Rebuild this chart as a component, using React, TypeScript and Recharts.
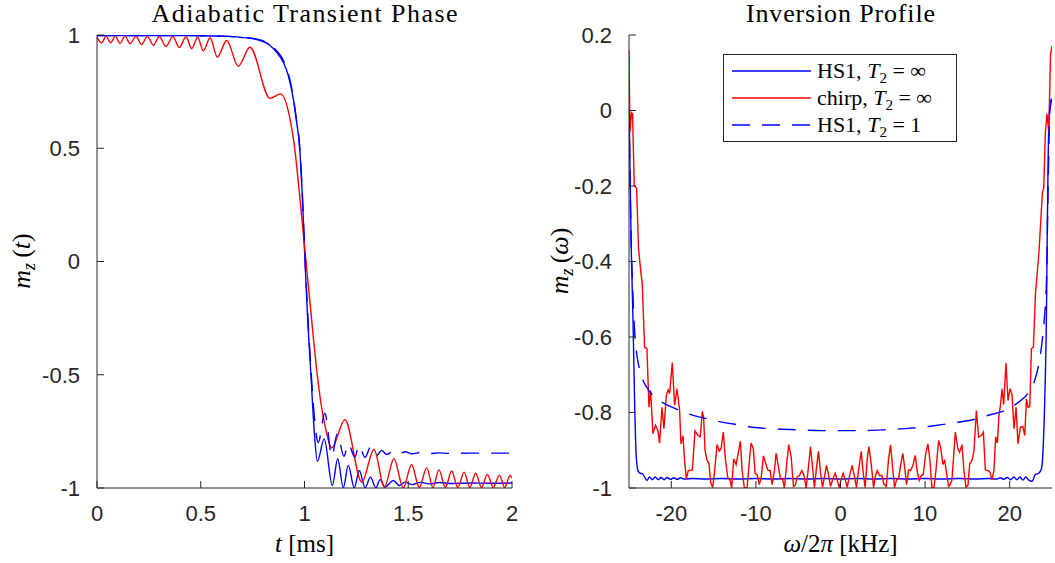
import React from 'react';
import { LineChart, Line, XAxis, YAxis, Legend } from 'recharts';

// ---------- tick values ----------
const transientTicksX = [0, 0.5, 1, 1.5, 2];
const transientTicksY = [-1, -0.5, 0, 0.5, 1];
const profileTicksX = [-20, -10, 0, 10, 20];
const profileTicksY = [-1, -0.8, -0.6, -0.4, -0.2, 0, 0.2];

// ---------- Adiabatic transient phase (t in ms) ----------
const hs1TransientT = [
  0, 0.3, 0.5, 0.6, 0.69, 0.77, 0.834, 0.866, 0.898, 0.922,
  0.946, 0.962, 0.975, 0.99, 1.0, 1.015, 1.031, 1.047, 1.062, 1.095,
  1.134, 1.16, 1.187, 1.211, 1.24, 1.264, 1.292, 1.318, 1.344, 1.364,
  1.388, 1.428, 1.457, 1.484, 1.52, 1.56, 1.6, 1.65, 1.7, 1.8,
  1.9, 2.0,
];
const hs1TransientMz = [
  0.998, 0.998, 0.997, 0.995, 0.99, 0.98, 0.954, 0.924, 0.88, 0.821,
  0.718, 0.615, 0.52, 0.28, 0.05, -0.25, -0.5, -0.75, -0.882, -0.783,
  -0.989, -0.871, -0.999, -0.9, -0.999, -0.923, -0.999, -0.952, -0.999, -0.963,
  -0.996, -0.967, -0.989, -0.974, -0.985, -0.975, -0.982, -0.976, -0.98, -0.978,
  -0.979, -0.978,
];

const chirpTransientT = [
  0, 0.0225, 0.0434, 0.0659, 0.088, 0.1108, 0.135, 0.159, 0.188, 0.215,
  0.243, 0.2715, 0.3, 0.3325, 0.365, 0.3968, 0.429, 0.4562, 0.485, 0.5124,
  0.545, 0.58, 0.625, 0.681, 0.737, 0.834, 0.885, 0.93, 0.949, 0.98,
  1.0, 1.02, 1.04, 1.059, 1.08, 1.1, 1.131, 1.195, 1.276, 1.335,
  1.385, 1.431, 1.476, 1.516, 1.553, 1.589, 1.619, 1.648, 1.679, 1.709,
  1.739, 1.769, 1.797, 1.825, 1.853, 1.881, 1.91, 1.939, 1.965, 1.99,
  2.0,
];
const chirpTransientMz = [
  0.99, 0.965, 0.995, 0.965, 0.995, 0.963, 0.995, 0.962, 0.994, 0.958,
  0.994, 0.955, 0.993, 0.95, 0.993, 0.945, 0.992, 0.94, 0.99, 0.93,
  0.988, 0.902, 0.976, 0.862, 0.946, 0.72, 0.74, 0.63, 0.527, 0.26,
  0.07, -0.12, -0.31, -0.48, -0.63, -0.73, -0.823, -0.699, -0.974, -0.83,
  -0.996, -0.871, -0.999, -0.896, -0.998, -0.911, -0.998, -0.92, -0.998, -0.925,
  -0.998, -0.93, -0.998, -0.935, -0.998, -0.94, -0.998, -0.943, -0.998, -0.945,
  -0.955,
];

const hs1T2TransientT = [
  0, 0.3, 0.5, 0.6, 0.69, 0.77, 0.834, 0.866, 0.898, 0.922,
  0.946, 0.962, 0.975, 0.99, 1.0, 1.015, 1.03, 1.047, 1.066, 1.098,
  1.132, 1.158, 1.19, 1.211, 1.243, 1.262, 1.292, 1.318, 1.347, 1.372,
  1.396, 1.428, 1.457, 1.484, 1.52, 1.56, 1.6, 1.65, 1.7, 1.8,
  1.9, 2.0,
];
const hs1T2TransientMz = [
  0.998, 0.998, 0.997, 0.995, 0.99, 0.982, 0.958, 0.93, 0.888, 0.83,
  0.726, 0.622, 0.527, 0.29, 0.07, -0.22, -0.46, -0.68, -0.8, -0.67,
  -0.86, -0.76, -0.86, -0.805, -0.864, -0.812, -0.865, -0.82, -0.857, -0.834,
  -0.852, -0.838, -0.85, -0.84, -0.849, -0.843, -0.848, -0.845, -0.847, -0.846,
  -0.846, -0.846,
];

// ---------- Inversion profile (offset in kHz) ----------
const hs1ProfileKHz = [
  -25, -24.9, -24.73, -24.53, -24.34, -24.14, -23.94, -23.67, -23.43, -23.16,
  -22.88, -22.57, -22.25, -21.89, -21.55, -21.2, -20.85, -20.5, -20.1, -19.7,
  -19.3, -18.9, -18.5, -17.5, -16, -14, -12, -10, -8, -6,
  -4, -2, 0, 2, 4, 6, 8, 10, 12, 14,
  16, 17.5, 18.5, 18.9, 19.3, 19.7, 20.1, 20.5, 20.85, 21.2,
  21.55, 21.9, 22.25, 22.64, 23.04, 23.43, 23.75, 23.94, 24.14, 24.34,
  24.45, 24.55, 24.65, 24.9, 25,
];
const hs1ProfileMz = [
  0.03, -0.13, -0.37, -0.55, -0.77, -0.918, -0.954, -0.961, -0.962, -0.971,
  -0.98, -0.971, -0.978, -0.971, -0.978, -0.972, -0.978, -0.972, -0.977, -0.973,
  -0.977, -0.973, -0.976, -0.975, -0.976, -0.975, -0.976, -0.975, -0.976, -0.975,
  -0.976, -0.975, -0.976, -0.975, -0.976, -0.975, -0.976, -0.975, -0.976, -0.975,
  -0.976, -0.975, -0.976, -0.973, -0.977, -0.972, -0.978, -0.971, -0.978, -0.971,
  -0.979, -0.971, -0.979, -0.982, -0.964, -0.961, -0.949, -0.901, -0.768, -0.547,
  -0.3, -0.12, -0.02, 0.03, 0.03,
];

const chirpProfileKHz = [
  -25, -24.89, -24.7, -24.58, -24.38, -24.1, -23.87, -23.59, -23.43, -23.16,
  -22.88, -22.64, -22.45, -22.17, -21.86, -21.58, -21.39, -21.1, -20.87, -20.59,
  -20.36, -20.2, -19.88, -19.61, -19.33, -19.02, -18.86, -18.62, -18.43, -18.22,
  -17.99, -17.51, -17.2, -16.84, -16.57, -16.33, -16.18, -16.01, -15.78, -15.54,
  -15.35, -15.11, -14.91, -14.59, -14.32, -14.12, -13.85, -13.61, -13.34, -13.05,
  -12.86, -12.63, -12.34, -12.07, -11.83, -11.63, -11.36, -11.04, -10.77, -10.57,
  -10.3, -10.09, -9.86, -9.59, -9.38, -9.11, -8.88, -8.6, -8.32, -8.08,
  -7.81, -7.61, -7.34, -7.1, -6.83, -6.63, -6.36, -6.12, -5.83, -5.56,
  -5.33, -5.12, -4.85, -4.58, -4.34, -4.06, -3.79, -3.55, -3.31, -3.08,
  -2.84, -2.6, -2.37, -2.13, -1.89, -1.66, -1.42, -1.18, -0.91, -0.63,
  -0.39, -0.15, 0.08, 0.32, 0.56, 0.79, 1.07, 1.38, 1.66, 1.89,
  2.13, 2.45, 2.69, 2.92, 3.16, 3.35, 3.63, 3.91, 4.14, 4.34,
  4.62, 4.89, 5.12, 5.41, 5.68, 5.92, 6.15, 6.39, 6.63, 6.86,
  7.1, 7.37, 7.57, 7.81, 8.05, 8.28, 8.56, 8.84, 9.08, 9.31,
  9.55, 9.79, 10.06, 10.33, 10.57, 10.8, 11.04, 11.28, 11.6, 11.83,
  12.11, 12.31, 12.54, 12.78, 12.9, 13.17, 13.57, 13.88, 14.08, 14.36,
  14.59, 14.83, 15.07, 15.27, 15.54, 15.78, 16.06, 16.33, 16.65, 16.89,
  17.12, 17.43, 17.67, 17.91, 18.14, 18.34, 18.54, 18.73, 18.93, 19.09,
  19.29, 19.56, 19.8, 20.04, 20.27, 20.51, 20.75, 20.98, 21.27, 21.54,
  21.78, 21.98, 22.17, 22.37, 22.57, 22.8, 23.04, 23.28, 23.47, 23.87,
  24.02, 24.22, 24.41, 24.62, 24.82, 25,
];
const chirpProfileMz = [
  0.159, -0.057, -0.006, -0.009, -0.199, -0.206, -0.366, -0.43, -0.46, -0.627,
  -0.631, -0.786, -0.742, -0.856, -0.834, -0.848, -0.881, -0.786, -0.843, -0.755,
  -0.74, -0.75, -0.668, -0.781, -0.737, -0.793, -0.883, -0.862, -0.927, -0.976,
  -0.954, -0.952, -0.848, -0.861, -0.864, -0.797, -0.812, -0.9, -0.927, -0.936,
  -0.985, -0.999, -0.962, -0.885, -0.902, -0.896, -0.852, -0.923, -0.971, -0.98,
  -1.0, -0.923, -0.938, -0.905, -0.876, -0.954, -1.0, -1.0, -0.927, -0.881,
  -0.896, -0.962, -0.965, -0.991, -0.973, -0.915, -0.932, -0.952, -0.954, -0.991,
  -0.954, -0.908, -0.943, -0.976, -0.978, -1.0, -0.936, -0.885, -0.918, -0.996,
  -0.992, -0.97, -0.967, -0.954, -0.964, -1.0, -0.945, -0.89, -0.945, -0.999,
  -0.946, -0.903, -0.958, -0.998, -0.97, -0.94, -0.964, -0.996, -0.976, -0.961,
  -0.978, -0.999, -0.976, -0.961, -0.978, -0.998, -0.967, -0.94, -0.971, -0.999,
  -0.954, -0.903, -0.962, -0.999, -0.923, -0.89, -0.936, -0.999, -0.967, -0.954,
  -0.967, -0.967, -0.989, -0.996, -0.923, -0.886, -0.945, -0.999, -0.978, -0.976,
  -0.94, -0.908, -0.943, -0.991, -0.952, -0.954, -0.94, -0.914, -0.958, -0.98,
  -0.967, -0.964, -0.911, -0.883, -0.927, -0.998, -1.0, -0.954, -0.874, -0.892,
  -0.938, -0.925, -0.962, -0.996, -0.993, -0.98, -0.852, -0.896, -0.905, -0.885,
  -0.954, -0.998, -0.993, -0.936, -0.927, -0.901, -0.795, -0.865, -0.861, -0.852,
  -0.952, -0.954, -0.958, -0.978, -0.954, -0.864, -0.881, -0.808, -0.777, -0.737,
  -0.779, -0.669, -0.768, -0.737, -0.752, -0.843, -0.786, -0.883, -0.839, -0.837,
  -0.861, -0.764, -0.786, -0.784, -0.631, -0.627, -0.486, -0.424, -0.371, -0.216,
  -0.207, -0.057, -0.009, -0.057, 0.146, 0.172,
];

const hs1T2ProfileKHz = [
  -25, -24.9, -24.8, -24.6, -24.4, -24.2, -23.9, -23.5, -22.8, -21.4,
  -19.7, -17.9, -15.9, -13.9, -12, -10.4, -8, -5, -2, 0,
  2, 5, 8, 10.4, 12, 13.9, 15.9, 17.4, 19.4, 20.8,
  22.37, 22.96, 23.75, 24.1, 24.35, 24.55, 24.75, 25,
];
const hs1T2ProfileMz = [
  0.0, -0.15, -0.29, -0.45, -0.56, -0.622, -0.67, -0.705, -0.737, -0.768,
  -0.788, -0.804, -0.816, -0.826, -0.833, -0.839, -0.843, -0.846, -0.848, -0.848,
  -0.848, -0.846, -0.842, -0.837, -0.832, -0.826, -0.818, -0.808, -0.795, -0.777,
  -0.742, -0.715, -0.627, -0.55, -0.45, -0.19, 0.0, 0.03,
];

const legendEntries = [
  { label: 'HS1', t2: '\u221E', color: '#0000ff', dashed: false },
  { label: 'chirp', t2: '\u221E', color: '#ff0000', dashed: false },
  { label: 'HS1', t2: '1', color: '#0000ff', dashed: true },
];

const zip = (xs: number[], ys: number[]) =>
  xs.slice(0, Math.min(xs.length, ys.length)).map((x, i) => ({ x, y: ys[i] }));

const AXIS = '#262626';
const BLUE = '#0000ff';
const RED = '#ff0000';
const DASH = '18 12';
const SANS = '"Liberation Sans", Arial, Helvetica, sans-serif';
const SERIF = '"Liberation Serif", "Times New Roman", serif';
const tickStyle = { fill: AXIS, fontSize: 22, fontFamily: SANS };
const blank = () => '';

const renderLegend = () => (
  <div
    style={{
      width: 234,
      height: 88,
      border: `1px solid ${AXIS}`,
      background: '#fff',
      boxSizing: 'border-box',
      position: 'relative',
    }}
  >
    <svg width={232} height={86} style={{ position: 'absolute', left: 0, top: 0 }}>
      {legendEntries.map((e, i) => {
        const cy = 16 + i * 27;
        return (
          <g key={i}>
            <line
              x1={8}
              x2={87}
              y1={cy}
              y2={cy}
              stroke={e.color}
              strokeWidth={1.4}
              strokeDasharray={e.dashed ? DASH : undefined}
            />
            <text x={93} y={cy + 7} fontFamily={SERIF} fontSize={22} fill="#000">
              {e.label + ', '}
              <tspan fontStyle="italic">T</tspan>
              <tspan fontSize={15} dy={5}>2</tspan>
              <tspan dy={-5}>{' = ' + e.t2}</tspan>
            </text>
          </g>
        );
      })}
    </svg>
  </div>
);

function TransientChart() {
  return (
    <LineChart width={560} height={563} margin={{ top: 35, right: 48, bottom: 45, left: 37 }}>
      <XAxis
        xAxisId="b"
        dataKey="x"
        type="number"
        domain={[0, 2]}
        ticks={transientTicksX}
        interval={0}
        allowDataOverflow
        height={30}
        tickSize={-7}
        tickMargin={24}
        stroke={AXIS}
        tick={tickStyle}
      />
      <XAxis
        xAxisId="t"
        orientation="top"
        dataKey="x"
        type="number"
        domain={[0, 2]}
        ticks={transientTicksX}
        interval={0}
        allowDataOverflow
        height={0}
        tickSize={-7}
        tickFormatter={blank}
        stroke={AXIS}
      />
      <YAxis
        yAxisId="l"
        type="number"
        domain={[-1, 1]}
        ticks={transientTicksY}
        interval={0}
        allowDataOverflow
        width={60}
        tickSize={-7}
        tickMargin={24}
        stroke={AXIS}
        tick={tickStyle}
      />
      <YAxis
        yAxisId="r"
        orientation="right"
        type="number"
        domain={[-1, 1]}
        ticks={transientTicksY}
        interval={0}
        allowDataOverflow
        width={0}
        tickSize={-7}
        tickFormatter={blank}
        stroke={AXIS}
      />
      <Line
        xAxisId="b"
        yAxisId="l"
        data={zip(hs1TransientT, hs1TransientMz)}
        dataKey="y"
        type="monotone"
        stroke={BLUE}
        strokeWidth={1.4}
        dot={false}
        activeDot={false}
        isAnimationActive={false}
      />
      <Line
        xAxisId="b"
        yAxisId="l"
        data={zip(chirpTransientT, chirpTransientMz)}
        dataKey="y"
        type="monotone"
        stroke={RED}
        strokeWidth={1.4}
        dot={false}
        activeDot={false}
        isAnimationActive={false}
      />
      <Line
        xAxisId="b"
        yAxisId="l"
        data={zip(hs1T2TransientT, hs1T2TransientMz)}
        dataKey="y"
        type="monotone"
        stroke={BLUE}
        strokeWidth={1.4}
        strokeDasharray={DASH}
        dot={false}
        activeDot={false}
        isAnimationActive={false}
      />
    </LineChart>
  );
}

function ProfileChart() {
  return (
    <LineChart width={495} height={563} margin={{ top: 35, right: 3, bottom: 45, left: 9 }}>
      <XAxis
        xAxisId="b"
        dataKey="x"
        type="number"
        domain={[-25, 25]}
        ticks={profileTicksX}
        interval={0}
        allowDataOverflow
        height={30}
        tickSize={-7}
        tickMargin={24}
        stroke={AXIS}
        tick={tickStyle}
      />
      <XAxis
        xAxisId="t"
        orientation="top"
        dataKey="x"
        type="number"
        domain={[-25, 25]}
        ticks={profileTicksX}
        interval={0}
        allowDataOverflow
        height={0}
        tickSize={-7}
        tickFormatter={blank}
        stroke={AXIS}
      />
      <YAxis
        yAxisId="l"
        type="number"
        domain={[-1, 0.2]}
        ticks={profileTicksY}
        interval={0}
        allowDataOverflow
        width={60}
        tickSize={-7}
        tickMargin={24}
        stroke={AXIS}
        tick={tickStyle}
      />
      <YAxis
        yAxisId="r"
        orientation="right"
        type="number"
        domain={[-1, 0.2]}
        ticks={profileTicksY}
        interval={0}
        allowDataOverflow
        width={0}
        tickSize={-7}
        tickFormatter={blank}
        stroke={AXIS}
      />
      <Legend
        layout="vertical"
        align="center"
        verticalAlign="middle"
        content={renderLegend}
        wrapperStyle={{ left: 163, top: 54, width: 234, height: 88 }}
      />
      <Line
        xAxisId="b"
        yAxisId="l"
        name="HS1, T2 = ∞"
        data={zip(hs1ProfileKHz, hs1ProfileMz)}
        dataKey="y"
        type="monotone"
        stroke={BLUE}
        strokeWidth={1.4}
        dot={false}
        activeDot={false}
        isAnimationActive={false}
      />
      <Line
        xAxisId="b"
        yAxisId="l"
        name="chirp, T2 = ∞"
        data={zip(chirpProfileKHz, chirpProfileMz)}
        dataKey="y"
        type="linear"
        stroke={RED}
        strokeWidth={1.4}
        dot={false}
        activeDot={false}
        isAnimationActive={false}
      />
      <Line
        xAxisId="b"
        yAxisId="l"
        name="HS1, T2 = 1"
        data={zip(hs1T2ProfileKHz, hs1T2ProfileMz)}
        dataKey="y"
        type="monotone"
        stroke={BLUE}
        strokeWidth={1.4}
        strokeDasharray={DASH}
        dot={false}
        activeDot={false}
        isAnimationActive={false}
      />
    </LineChart>
  );
}

function TextOverlay() {
  return (
    <svg
      width={1055}
      height={563}
      style={{ position: 'absolute', left: 0, top: 0, pointerEvents: 'none' }}
    >
      <g fontFamily={SERIF} fill="#000">
        <text x={304.5} y={22} textAnchor="middle" fontSize={26} textLength={306} lengthAdjust="spacing">
          Adiabatic Transient Phase
        </text>
        <text x={840.5} y={22} textAnchor="middle" fontSize={26} textLength={189} lengthAdjust="spacing">
          Inversion Profile
        </text>
        <text x={304.5} y={552} textAnchor="middle" fontSize={25}>
          <tspan fontStyle="italic">t</tspan>
          <tspan>{' [ms]'}</tspan>
        </text>
        <text x={840.5} y={552} textAnchor="middle" fontSize={25}>
          <tspan fontStyle="italic">{'\u03C9'}</tspan>
          <tspan>/2</tspan>
          <tspan fontStyle="italic">{'\u03C0'}</tspan>
          <tspan>{' [kHz]'}</tspan>
        </text>
        <text transform="translate(30,261) rotate(-90)" textAnchor="middle" fontSize={26}>
          <tspan fontStyle="italic">m</tspan>
          <tspan fontStyle="italic" fontSize={18} dy={5}>z</tspan>
          <tspan dy={-5}>{'\u2009('}</tspan>
          <tspan fontStyle="italic">t</tspan>
          <tspan>)</tspan>
        </text>
        <text transform="translate(568,261) rotate(-90)" textAnchor="middle" fontSize={26}>
          <tspan fontStyle="italic">m</tspan>
          <tspan fontStyle="italic" fontSize={18} dy={5}>z</tspan>
          <tspan dy={-5}>{'\u2009('}</tspan>
          <tspan fontStyle="italic">{'\u03C9'}</tspan>
          <tspan>)</tspan>
        </text>
      </g>
    </svg>
  );
}

export default function App() {
  return (
    <div
      style={{
        position: 'absolute',
        left: 0,
        top: 0,
        width: 1055,
        height: 563,
        background: '#fff',
        overflow: 'hidden',
      }}
    >
      <div style={{ position: 'absolute', left: 0, top: 0 }}>
        <TransientChart />
      </div>
      <div style={{ position: 'absolute', left: 560, top: 0 }}>
        <ProfileChart />
      </div>
      <TextOverlay />
    </div>
  );
}
